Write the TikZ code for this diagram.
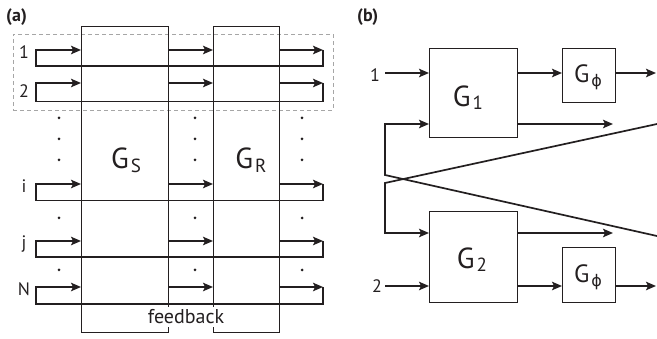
\documentclass[tikz,border=0pt]{standalone}
\usepackage{fontspec}
\setmainfont{PT Sans}
\newfontfamily\grk{DejaVu Sans}
\usetikzlibrary{arrows.meta}
\definecolor{ink}{HTML}{231F20}
\newcommand\lowsub[3]{\hspace{2pt}\raisebox{-#3}{\fontsize{#2}{#2}\selectfont #1}}
\begin{document}
\begin{tikzpicture}[x=1pt,y=-1pt,
  conn/.style={line width=1.7pt, draw=ink, line join=miter},
  arr/.style={conn, -{Stealth[length=10pt,width=8.5pt,inset=2pt]}},
  blk/.style={draw=ink, line width=1pt, inner sep=0pt, outer sep=0pt},
  lab/.style={text=ink, inner sep=0pt, font=\fontsize{18}{18}\selectfont},
  glab/.style={text=ink, inner sep=0pt, font=\fontsize{29}{29}\selectfont},
  plab/.style={text=ink, inner sep=0pt, font=\fontsize{25}{25}\selectfont},
  title/.style={text=ink, inner sep=0pt, anchor=west, font=\bfseries\fontsize{18}{18}\selectfont},
  grpbox/.style={draw=gray!70, line width=0.8pt, dash pattern=on 4pt off 3pt, inner sep=0pt}
]
\useasboundingbox (0,0) rectangle (657,339);

% ---------------- panel (a) ----------------
\node[title] (ta) at (6,17) {(a)};
\node[grpbox, minimum width=320pt, minimum height=76pt] (grp) at (173,72) {};

\node[blk, minimum width=87pt, minimum height=306pt] (GS) at (124.5,180) {};
\node[blk, minimum width=66pt, minimum height=306pt] (GR) at (246,180) {};
\node[glab] (gsl) at (126,160) {G\lowsub{S}{19}{4pt}};
\node[glab] (grl) at (251,160) {G\lowsub{R}{19}{4pt}};

\foreach \a/\b/\t/\ty [count=\k] in {50/66/1/52, 83/101.5/2/91, 184/200.5/i/186, 241/257/j/244, 287/304/N/289} {
  \coordinate (La\k) at (36,\a);
  \coordinate (Lb\k) at (36,\b);
  \coordinate (Ra\k) at (323,\a);
  \coordinate (Rb\k) at (323,\b);
  \node[lab] (tx\k) at (24,\ty) {\t};
  \draw[arr] (Ra\k) -- (Rb\k) -- (Lb\k) -- (La\k) -- (GS.west |- La\k);
  \draw[arr] (GS.east |- La\k) -- (GR.west |- La\k);
  \draw[arr] (GR.east |- La\k) -- (Ra\k);
}

\foreach \x in {59,195,302}
  \foreach \y in {118,139,160,218,270}
    \fill[ink] (\x,\y) circle (1.5pt);

\node[fill=white, text=ink, inner xsep=1pt, inner ysep=2.5pt, font=\fontsize{20}{20}\selectfont] (fb) at (186,317) {feedback};

% ---------------- panel (b) ----------------
\node[title] (tb) at (357,17) {(b)};

\node[blk, minimum width=88pt, minimum height=89pt] (G1) at (473,93.5) {};
\node[blk, minimum width=53pt, minimum height=54pt] (P1) at (588.5,76) {};
\node[blk, minimum width=88pt, minimum height=91pt] (G2) at (473,257.5) {};
\node[blk, minimum width=53pt, minimum height=55pt] (P2) at (588.5,275.5) {};

\node[glab] (g1l) at (468,98) {G\lowsub{1}{19}{3pt}};
\node[glab] (g2l) at (472,260) {G\lowsub{2}{19}{3pt}};
\node[plab] (p1l) at (588,77) {G\lowsub{\grk ϕ}{16}{4pt}};
\node[plab] (p2l) at (588,277) {G\lowsub{\grk ϕ}{16}{4pt}};

\node[lab] (in1) at (375,75) {1};
\node[lab] (in2) at (377,286) {2};

\coordinate (s1) at (385,73);
\coordinate (o1) at (656,73);
\coordinate (c1) at (385,124);
\coordinate (x1) at (385,175);
\coordinate (e1) at (657,236);
\coordinate (t1) at (613,124);
\coordinate (e2) at (657,124);
\coordinate (x2) at (385,183);
\coordinate (c2) at (385,233);
\coordinate (t2) at (613,233);
\coordinate (s2) at (385,286);
\coordinate (o2) at (656,286);

\draw[arr] (s1) -- (G1.west |- s1);
\draw[arr] (G1.east |- s1) -- (P1.west |- s1);
\draw[arr] (P1.east |- s1) -- (o1);
\draw[arr] (e1) -- (x1) -- (c1) -- (G1.west |- c1);
\draw[arr] (G1.east |- c1) -- (t1);
\draw[arr] (e2) -- (x2) -- (c2) -- (G2.west |- c2);
\draw[arr] (G2.east |- c2) -- (t2);
\draw[arr] (s2) -- (G2.west |- s2);
\draw[arr] (G2.east |- s2) -- (P2.west |- s2);
\draw[arr] (P2.east |- s2) -- (o2);
\end{tikzpicture}
\end{document}
